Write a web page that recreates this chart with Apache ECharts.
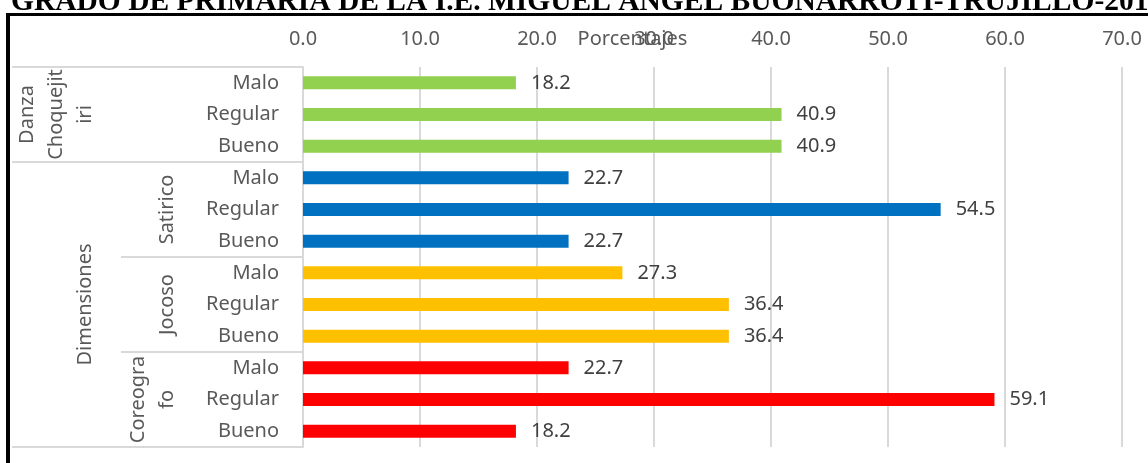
<!DOCTYPE html>
<html>
<head>
<meta charset="utf-8">
<script src="https://cdn.jsdelivr.net/npm/echarts@6/dist/echarts.min.js"></script>
<style>
  html, body { margin: 0; padding: 0; background: #fff; }
  #chart { width: 1148px; height: 463px; }
</style>
</head>
<body>
<div id="chart"></div>
<script>
const titleText = 'GRADO DE PRIMARIA DE LA I.E. MIGUEL ANGEL BUONARROTI-TRUJILLO-2019'
const axisName = 'Porcentajes'
const levels = ['Malo', 'Regular', 'Bueno']
const groups = ['Danza Choquejitiri', 'Satirico', 'Jocoso', 'Coreografo']
const groupLabels = ['Danza\nChoquejit\niri', 'Satirico', 'Jocoso', 'Coreogra\nfo']
const outerLabel = 'Dimensiones'
const values = [18.2, 40.9, 40.9, 22.7, 54.5, 22.7, 27.3, 36.4, 36.4, 22.7, 59.1, 18.2]
const xTicks = [0, 10, 20, 30, 40, 50, 60, 70]
const groupColors = ['#92D050', '#0070C0', '#FFC000', '#FF0000']

const categories = groups.flatMap(g => levels.map(l => g + '|' + l))
const gridColor = '#d9d9d9'
const labelFont = "'Noto Sans', 'Open Sans', sans-serif"

const chart = echarts.init(document.getElementById('chart'))

// shared base for the stacked category axes on the left side
function catAxis(extra) {
  return Object.assign({
    type: 'category',
    data: categories,
    inverse: true,
    position: 'left',
    axisLine: { show: false },
    axisTick: { show: false },
    axisLabel: { show: false }
  }, extra)
}

const rotatedLabel = {
  show: true,
  interval: 0,
  rotate: 90,
  margin: 0,
  fontSize: 20,
  lineHeight: 29,
  color: '#595959',
  fontFamily: labelFont
}

const option = {
  animation: false,
  title: {
    text: titleText,
    left: 6,
    top: -18,
    textStyle: {
      fontFamily: "'Times New Roman', 'Liberation Serif', serif",
      fontWeight: 'bold',
      fontSize: 29.5,
      color: '#000'
    }
  },
  grid: {
    left: 303,
    right: 26,
    top: 67,
    bottom: 16,
    containLabel: false,
    outerBoundsMode: 'none'
  },
  xAxis: {
    type: 'value',
    position: 'top',
    min: xTicks[0],
    max: xTicks[xTicks.length - 1],
    interval: xTicks[1] - xTicks[0],
    name: axisName,
    nameLocation: 'middle',
    nameGap: 18,
    nameMoveOverlap: false,
    nameTextStyle: {
      fontSize: 20,
      color: '#595959',
      fontFamily: labelFont,
      padding: [0, 160, 0, 0]
    },
    axisLine: { show: false },
    axisTick: { show: false },
    axisLabel: {
      margin: 18,
      fontSize: 20,
      color: '#595959',
      fontFamily: labelFont,
      formatter: v => v.toFixed(1)
    },
    splitLine: { lineStyle: { color: gridColor, width: 2 } }
  },
  yAxis: [
    // inner level: Malo / Regular / Bueno
    catAxis({
      axisLine: { show: true, lineStyle: { color: gridColor, width: 2 } },
      axisTick: {
        show: true,
        length: 291,
        interval: i => i === 0 || i === 3,
        lineStyle: { color: gridColor, width: 2 }
      },
      axisLabel: {
        show: true,
        interval: 0,
        margin: 24,
        fontSize: 20,
        color: '#595959',
        fontFamily: labelFont,
        formatter: v => v.split('|')[1]
      }
    }),
    // separators between the sub-dimensions
    catAxis({
      axisTick: {
        show: true,
        length: 182,
        interval: i => i === 6 || i === 9,
        lineStyle: { color: gridColor, width: 2 }
      }
    }),
    // middle level: Satirico / Jocoso / Coreografo
    catAxis({
      offset: 121,
      axisLabel: Object.assign({}, rotatedLabel, {
        formatter: (v, i) => {
          const g = Math.floor(i / 3)
          return g > 0 && i % 3 === 1 ? groupLabels[g] : ''
        }
      })
    }),
    // outer level: Danza Choquejitiri / Dimensiones
    catAxis({
      offset: 203,
      axisLabel: Object.assign({}, rotatedLabel, {
        formatter: (v, i) => (i === 1 ? groupLabels[0] : i === 7 ? outerLabel : '')
      })
    })
  ],
  series: [{
    type: 'bar',
    yAxisIndex: 0,
    barWidth: 13,
    data: values.map((v, i) => ({
      value: v,
      itemStyle: { color: groupColors[Math.floor(i / 3)] }
    })),
    label: {
      show: true,
      position: 'right',
      distance: 15,
      fontSize: 20,
      color: '#404040',
      fontFamily: labelFont,
      formatter: p => p.value.toFixed(1)
    }
  }],
  graphic: [
    {
      type: 'rect',
      shape: { x: 6, y: 13, width: 1142, height: 3 },
      style: { fill: '#000' },
      silent: true
    },
    {
      type: 'rect',
      shape: { x: 6, y: 13, width: 4, height: 450 },
      style: { fill: '#000' },
      silent: true
    }
  ]
}

chart.setOption(option)
</script>
</body>
</html>
